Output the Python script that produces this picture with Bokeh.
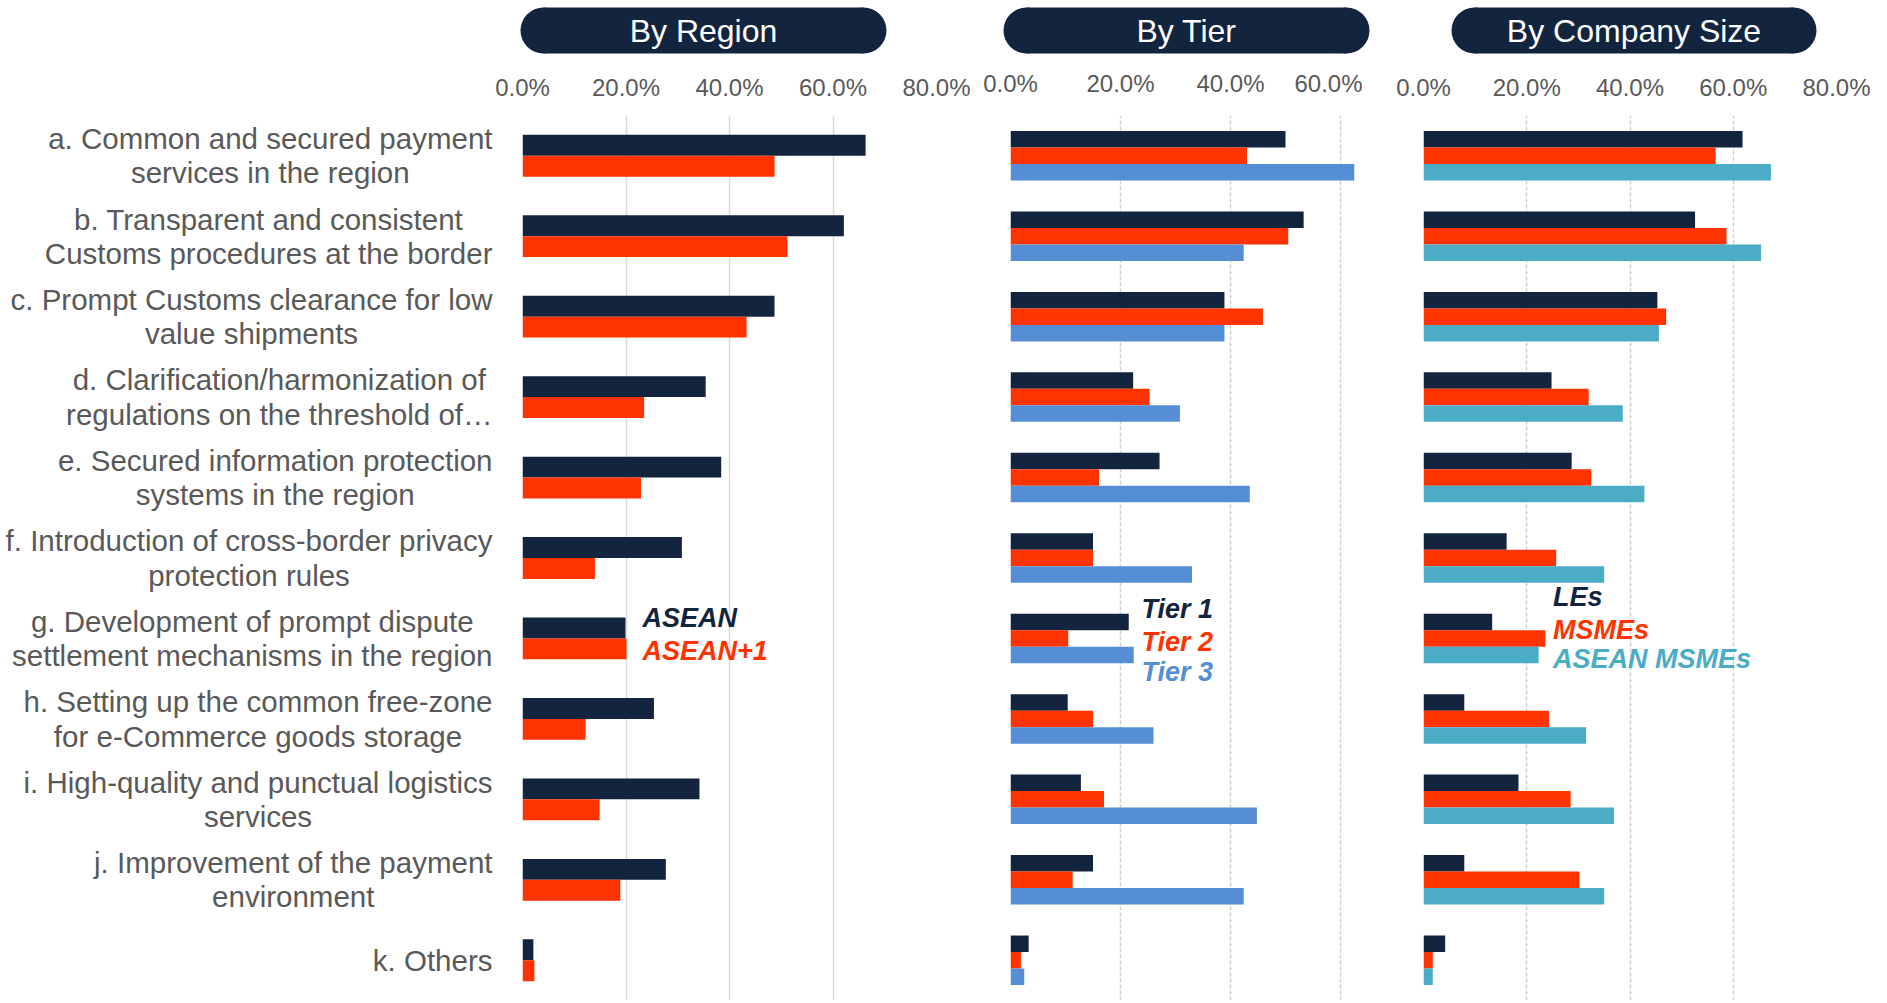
from bokeh.plotting import figure
from bokeh.models import ColumnDataSource, FactorRange, Range1d, FixedTicker, PrintfTickFormatter
from bokeh.transform import dodge
from bokeh.layouts import row, column
from bokeh.core.properties import value
from bokeh.embed import file_html
from bokeh.resources import INLINE

# ---------------- data ----------------
CATEGORIES = [
    "a. Common and secured payment\nservices in the region",
    "b. Transparent and consistent\nCustoms procedures at the border",
    "c. Prompt Customs clearance for low\nvalue shipments",
    "d. Clarification/harmonization of\nregulations on the threshold of\u2026",
    "e. Secured information protection\nsystems in the region",
    "f. Introduction of cross-border privacy\nprotection rules",
    "g. Development of prompt dispute\nsettlement mechanisms in the region",
    "h. Setting up the common free-zone\nfor e-Commerce goods storage",
    "i. High-quality and punctual logistics\nservices",
    "j. Improvement of the payment\nenvironment",
    "k. Others",
]
KEYS = ["a", "b", "c", "d", "e", "f", "g", "h", "i", "j", "k"]

PANEL_TITLES = ["By Region", "By Tier", "By Company Size"]

REGION_SERIES = ["ASEAN", "ASEAN+1"]
REGION_ASEAN = [66.3, 62.1, 48.7, 35.4, 38.4, 30.8, 19.9, 25.4, 34.2, 27.7, 2.1]
REGION_ASEAN1 = [48.7, 51.2, 43.3, 23.5, 22.9, 14.0, 20.1, 12.2, 14.9, 18.9, 2.3]

TIER_SERIES = ["Tier 1", "Tier 2", "Tier 3"]
TIER1 = [50.0, 53.3, 38.9, 22.3, 27.1, 15.0, 21.5, 10.4, 12.8, 15.0, 3.3]
TIER2 = [43.0, 50.5, 45.9, 25.3, 16.1, 15.0, 10.5, 15.0, 17.0, 11.3, 1.9]
TIER3 = [62.5, 42.4, 38.9, 30.8, 43.5, 33.0, 22.4, 26.0, 44.8, 42.4, 2.5]

SIZE_SERIES = ["LEs", "MSMEs", "ASEAN MSMEs"]
SIZE_LES = [61.8, 52.6, 45.3, 24.8, 28.7, 16.1, 13.3, 7.9, 18.4, 7.9, 4.2]
SIZE_MSMES = [56.6, 58.7, 47.0, 32.0, 32.5, 25.7, 23.6, 24.3, 28.5, 30.2, 1.8]
SIZE_ASEAN_MSMES = [67.3, 65.4, 45.6, 38.6, 42.8, 35.0, 22.3, 31.5, 36.9, 35.0, 1.8]

TICKS_REGION = [0, 20, 40, 60, 80]
TICKS_TIER = [0, 20, 40, 60]
TICKS_SIZE = [0, 20, 40, 60, 80]

# ---------------- style ----------------
NAVY = "#13243F"
RED = "#FF3300"
BLUE = "#558ED5"
TEAL = "#4BACC6"
GREY_TEXT = "#595959"
FONT = "Liberation Sans"

PILL_H = 56
ROW_H = 944
TOP = 59

y_range = FactorRange(factors=KEYS[::-1], range_padding=0)


def panel(width, bl, br, xmax, ticks, names, values, colors, offsets, bar_h,
          leg_x, leg_offsets, dash, standoff):
    data = {"cat": KEYS}
    for i, v in enumerate(values):
        data[f"s{i}"] = v
    src = ColumnDataSource(data)
    p = figure(width=width, height=ROW_H, y_range=y_range, x_range=Range1d(0, xmax),
               x_axis_location="above", output_backend="svg", toolbar_location=None,
               min_border_left=bl, min_border_right=br, min_border_top=TOP,
               min_border_bottom=0)
    p.yaxis.visible = False
    p.outline_line_color = None
    p.ygrid.visible = False
    ax = p.xaxis[0]
    ax.ticker = FixedTicker(ticks=ticks)
    ax.formatter = PrintfTickFormatter(format="%.1f%%")
    ax.axis_line_color = None
    ax.major_tick_line_color = None
    ax.minor_tick_line_color = None
    ax.major_label_text_font = FONT
    ax.major_label_text_font_size = "24px"
    ax.major_label_text_color = GREY_TEXT
    ax.major_label_standoff = standoff
    p.xgrid.ticker = FixedTicker(ticks=ticks)
    p.xgrid.grid_line_color = "#D0D0D0" if dash else "#D9D9D9"
    p.xgrid.grid_line_width = 1.5
    if dash:
        p.xgrid.grid_line_dash = "4 2"
    for i, c in enumerate(colors):
        p.hbar(y=dodge("cat", offsets[i], range=y_range), right=f"s{i}", left=0,
               height=bar_h, source=src, color=c, line_color=None)
    for i, (n, c) in enumerate(zip(names, colors)):
        lsrc = ColumnDataSource(dict(cat=["g"], x=[leg_x], t=[n]))
        p.text(x="x", y=dodge("cat", leg_offsets[i], range=y_range), text="t",
               source=lsrc, text_color=c, text_font=value(FONT),
               text_font_size="27px", text_font_style="bold italic",
               text_baseline="middle", text_align="left")
    return p


# labels figure
lab = figure(width=494, height=ROW_H, y_range=y_range, x_range=Range1d(0, 494),
             output_backend="svg", toolbar_location=None, min_border_left=0,
             min_border_right=0, min_border_top=TOP, min_border_bottom=0)
lab.axis.visible = False
lab.grid.visible = False
lab.outline_line_color = None
lab.text(x=[492] * len(KEYS), y=KEYS, text=CATEGORIES, anchor=value("center_right"),
         text_align="center", text_baseline="middle", text_color=GREY_TEXT,
         text_font=value(FONT), text_font_size="29.5px", text_line_height=1.04)

p1 = panel(481, 28, 39, 80, TICKS_REGION, REGION_SERIES, [REGION_ASEAN, REGION_ASEAN1],
           [NAVY, RED], [0.13, -0.13], 0.26, 23.2, [0.26, -0.15], False, 9)
p2 = panel(387, 35, 0, 64, TICKS_TIER, TIER_SERIES, [TIER1, TIER2, TIER3],
           [NAVY, RED, BLUE], [0.205, 0.0, -0.205], 0.205, 23.8, [0.37, -0.04, -0.42], True, 13)
p3 = panel(510, 61, 36, 80, TICKS_SIZE, SIZE_SERIES, [SIZE_LES, SIZE_MSMES, SIZE_ASEAN_MSMES],
           [NAVY, RED, TEAL], [0.205, 0.0, -0.205], 0.205, 25.1, [0.51, 0.11, -0.26], True, 9)

# pill header figure (pixel units)
TOTAL_W = 494 + 481 + 387 + 510
pill = figure(width=TOTAL_W, height=PILL_H, x_range=Range1d(0, TOTAL_W),
              y_range=Range1d(0, PILL_H), output_backend="svg", toolbar_location=None,
              min_border=0)
pill.axis.visible = False
pill.grid.visible = False
pill.outline_line_color = None
PILL_SPANS = [(520, 886), (1003, 1369), (1451, 1816)]
R = 23
CY = PILL_H - 30
for title, (l, r) in zip(PANEL_TITLES, PILL_SPANS):
    pill.rect(x=[(l + r) / 2], y=[CY], width=[r - l - 2 * R], height=[2 * R],
              color=NAVY, line_color=None)
    pill.circle(x=[l + R, r - R], y=[CY, CY], radius=R, color=NAVY, line_color=None)
    pill.text(x=[(l + r) / 2], y=[CY], text=[title], text_color="white",
              text_font=value(FONT), text_font_size="32px", text_align="center",
              text_baseline="middle")

layout = column(pill, row(lab, p1, p2, p3))
open("out.html", "w").write(file_html(layout, INLINE))
